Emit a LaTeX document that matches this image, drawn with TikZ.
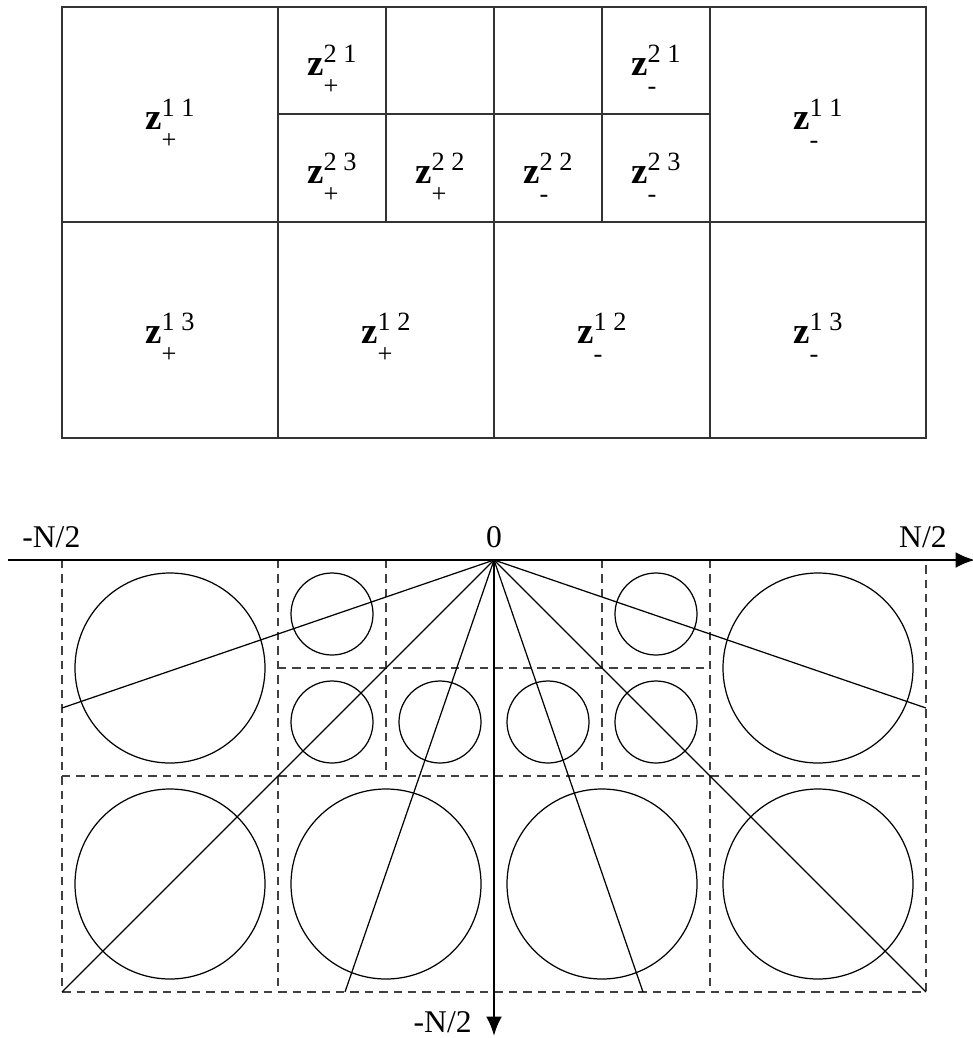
\documentclass[tikz,border=0pt]{standalone}
\usepackage{fontspec}
\setmainfont{Liberation Serif}
\usetikzlibrary{arrows.meta, positioning}
% bold z with upper index pair and lower sign
\newcommand{\zlab}[3]{\textbf{z}\rlap{\raisebox{-11pt}{\fontsize{15}{15}\selectfont #3}}\raisebox{7pt}{\fontsize{15}{15}\selectfont #1 #2}}
\tikzset{
  gridline/.style={draw=black!80, line width=0.8pt},
  zlabel/.style={anchor=base, inner sep=0pt, font=\fontsize{21}{24}\selectfont},
  cellgrid/.style={draw=black!75, line width=0.75pt, dash pattern=on 4.8pt off 3.4pt},
  ring/.style={draw, line width=0.7pt},
  ray/.style={draw, line width=0.7pt},
  axis/.style={draw, line width=1.5pt, -{Latex[length=11pt, width=9pt]}},
  axislabel/.style={font=\fontsize{18}{20}\selectfont, inner sep=0pt},
}

\begin{document}
\begin{tikzpicture}[x=0.02cm, y=-0.02cm]
\useasboundingbox (0,0) rectangle (973,1038);

% upper partition
\draw[gridline] (62,7) rectangle (926,438);
\draw[gridline] (62,222) -- (926,222);
\draw[gridline] (278,7) -- (278,438);
\draw[gridline] (494,7) -- (494,438);
\draw[gridline] (710,7) -- (710,438);
\draw[gridline] (278,114) -- (710,114);
\draw[gridline] (386,7) -- (386,222);
\draw[gridline] (602,7) -- (602,222);

\node[zlabel] (zp11) at (170,129) {\zlab{1}{1}{+}};
\node[zlabel] (zp21) at (332,75) {\zlab{2}{1}{+}};
\node[zlabel] (zp23) at (332,183) {\zlab{2}{3}{+}};
\node[zlabel] (zp22) at (440,183) {\zlab{2}{2}{+}};
\node[zlabel] (zm22) at (548,183) {\zlab{2}{2}{-}};
\node[zlabel] (zm21) at (656,75) {\zlab{2}{1}{-}};
\node[zlabel] (zm23) at (656,183) {\zlab{2}{3}{-}};
\node[zlabel] (zm11) at (818,129) {\zlab{1}{1}{-}};
\node[zlabel] (zp13) at (170,343) {\zlab{1}{3}{+}};
\node[zlabel] (zp12) at (386,343) {\zlab{1}{2}{+}};
\node[zlabel] (zm12) at (602,343) {\zlab{1}{2}{-}};
\node[zlabel] (zm13) at (818,343) {\zlab{1}{3}{-}};

% lower partition, dashed
\draw[cellgrid] (62,560) -- (62,992) -- (926,992) -- (926,560);
\draw[cellgrid] (62,776) -- (926,776);
\draw[cellgrid] (278,668) -- (710,668);
\draw[cellgrid] (278,560) -- (278,992);
\draw[cellgrid] (710,560) -- (710,992);
\draw[cellgrid] (386,560) -- (386,776);
\draw[cellgrid] (602,560) -- (602,776);

% circles
\draw[ring] (170,668) circle[radius=95];
\draw[ring] (818,668) circle[radius=95];
\draw[ring] (332,614) circle[radius=41];
\draw[ring] (656,614) circle[radius=41];
\draw[ring] (332,722) circle[radius=41];
\draw[ring] (440,722) circle[radius=41];
\draw[ring] (548,722) circle[radius=41];
\draw[ring] (656,722) circle[radius=41];
\draw[ring] (170,884) circle[radius=95];
\draw[ring] (386,884) circle[radius=95];
\draw[ring] (602,884) circle[radius=95];
\draw[ring] (818,884) circle[radius=95];

% rays from the origin
\coordinate (o) at (494,560);
\coordinate (r1) at (62,708);
\coordinate (r2) at (62,992);
\coordinate (r3) at (345,992);
\coordinate (r4) at (643,992);
\coordinate (r5) at (926,992);
\coordinate (r6) at (926,708);
\draw[ray] (o) -- (r1);
\draw[ray] (o) -- (r2);
\draw[ray] (o) -- (r3);
\draw[ray] (o) -- (r4);
\draw[ray] (o) -- (r5);
\draw[ray] (o) -- (r6);

% axes
\coordinate (xl) at (8,560);
\coordinate (xr) at (975,560);
\coordinate (yd) at (494,1036);
\draw[axis] (xl) -- (xr);
\draw[axis] (o) -- (yd);
\node[axislabel, anchor=base west] (lmin) at (22,547) {-N/2};
\node[axislabel, anchor=base] (lzero) at (494,547) {0};
\node[axislabel, anchor=base east] (lmax) at (947,547) {N/2};
\node[axislabel, anchor=base east] (lbot) at (472,1032) {-N/2};
\end{tikzpicture}
\end{document}
